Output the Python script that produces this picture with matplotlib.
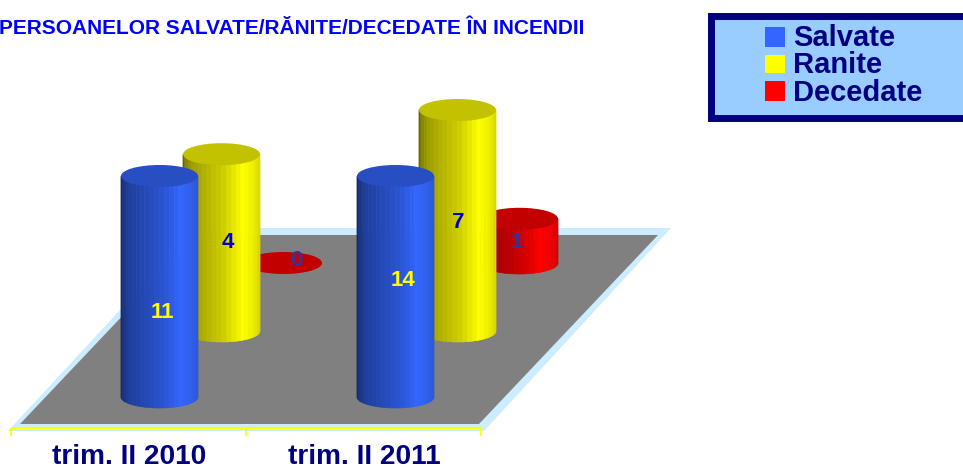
import numpy as np
import matplotlib
matplotlib.use('Agg')
import matplotlib.pyplot as plt
from matplotlib.patches import Polygon, Rectangle, Ellipse
from matplotlib.colors import to_rgb

plt.rcParams['font.family'] = ['Liberation Sans', 'DejaVu Sans']

title = 'PERSOANELOR SALVATE/RĂNITE/DECEDATE ÎN INCENDII'
categories = ['trim. II 2010', 'trim. II 2011']
series_names = ['Salvate', 'Ranite', 'Decedate']
salvate = [11, 14]
ranite = [4, 7]
decedate = [0, 1]
axis_max = 5  # value axis of the original chart stops here; taller columns are cut off
colors = {'Salvate': '#3366FF', 'Ranite': '#FFFF00', 'Decedate': '#FF0000'}
label_colors = {'Salvate': '#FFFF00', 'Ranite': '#0000CC', 'Decedate': '#333399'}

W, H = 963, 471
fig = plt.figure(figsize=(W / 100, H / 100), dpi=100, facecolor='white')
ax = fig.add_axes([0, 0, 1, 1])
ax.set_xlim(0, W)
ax.set_ylim(H, 0)
ax.axis('off')

# floor
ax.add_patch(Polygon([(8, 431), (484, 431), (671, 228), (196, 228)], closed=True,
                     fc='#CCECFF', ec='none', zorder=1))
ax.add_patch(Polygon([(20, 424), (479, 424), (658, 235), (199, 235)], closed=True,
                     fc='#808080', ec='none', zorder=2))
ax.plot([11, 481], [428, 428], color='#FFFF00', lw=1.6, zorder=3, solid_capstyle='butt')
for xt in (11, 246, 481):
    ax.plot([xt, xt], [428, 436], color='#FFFF00', lw=1.3, zorder=3, solid_capstyle='butt')

UNIT = 44.2
RX = 38.5
RY = 11


def shade(t):
    return np.interp(t, [0, 0.03, 0.12, 0.55, 0.78, 0.92, 1.0],
                     [0.36, 0.5, 0.62, 0.82, 1.0, 0.93, 0.85])


def cylinder(cx, base, value, color, z):
    rgb = np.array(to_rgb(color))
    h = min(value, axis_max) * UNIT
    top = base - h
    ang = np.linspace(np.pi, 0, 25)
    xs = cx + RX * np.cos(ang)
    ys = RY * np.sin(ang)
    if h > 0:
        for i in range(len(ang) - 1):
            tm = ((xs[i] + xs[i + 1]) / 2 - (cx - RX)) / (2 * RX)
            c = rgb * shade(tm)
            poly = [(xs[i], top), (xs[i + 1], top),
                    (xs[i + 1], base + ys[i + 1]), (xs[i], base + ys[i])]
            ax.add_patch(Polygon(poly, closed=True, fc=c, ec=c, lw=0.5, zorder=z))
    ax.add_patch(Ellipse((cx, top), 2 * RX, 2 * RY, fc=rgb * 0.76, ec='none', zorder=z + 0.1))


step = 236
for i in range(len(categories)):
    cylinder(283.5 + step * i, 263, decedate[i], colors['Decedate'], 4)
    cylinder(221.5 + step * i, 331, ranite[i], colors['Ranite'], 5)
    cylinder(159.5 + step * i, 397, salvate[i], colors['Salvate'], 6)

# data labels
label_pos = {
    'Salvate': [(162, 312), (403, 281)],
    'Ranite': [(228, 243), (458, 222)],
    'Decedate': [(296, 261), (517, 243)],
}
values = {'Salvate': salvate, 'Ranite': ranite, 'Decedate': decedate}
for name in series_names:
    for (x, y), v in zip(label_pos[name], values[name]):
        ax.text(x, y, str(v), color=label_colors[name], fontsize=16, fontweight='bold',
                ha='center', va='center', zorder=10)

# category labels
for xc, cat in zip((129, 364), categories):
    ax.text(xc, 464.5, cat, color='#000080', fontsize=20.2, fontweight='bold',
            ha='center', va='baseline', zorder=10)

# title
ax.text(-1, 28.5, title, color='#0000FF', fontsize=15, fontweight='bold',
        ha='left', va='center', zorder=10)

# legend
ax.add_patch(Rectangle((710.5, 15.5), 300, 102, fc='#99CCFF', ec='#000080', lw=5, zorder=10,
                       clip_on=True))
for name, sy, sh, ty in zip(series_names, (27, 55, 81), (20, 18, 20), (38, 65, 93)):
    ax.add_patch(Rectangle((765, sy), 20, sh, fc=colors[name], ec='none', zorder=11))
    ax.text(793, ty, name, color='#000080', fontsize=21, fontweight='bold',
            ha='left', va='center', zorder=11)

fig.savefig('out.png', dpi=100, facecolor='white')
